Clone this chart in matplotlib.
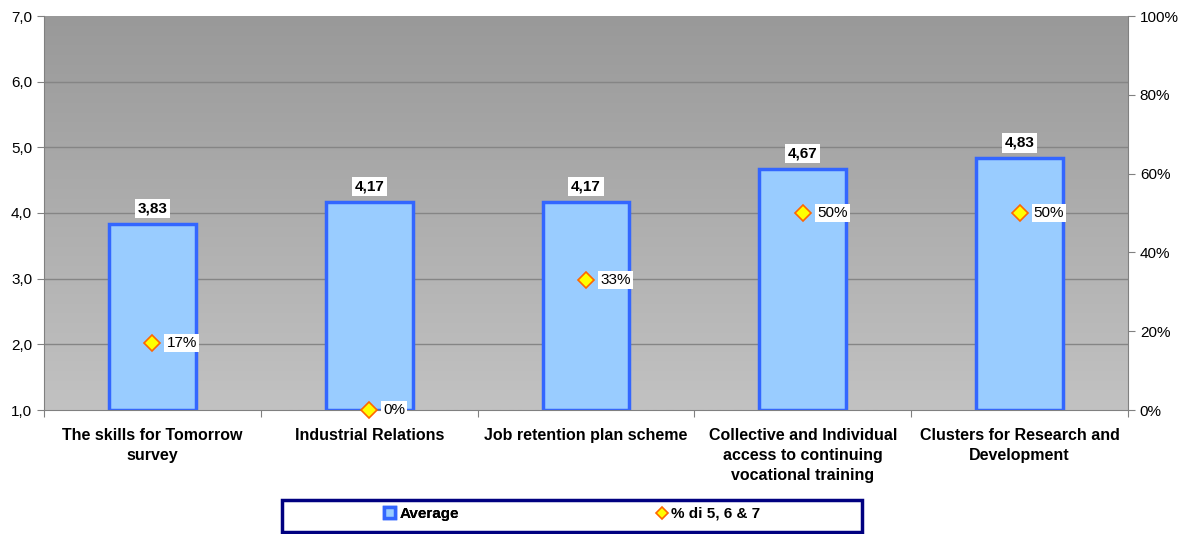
import numpy as np
import matplotlib.pyplot as plt
from matplotlib.ticker import FixedLocator, FixedFormatter
from matplotlib.patches import Rectangle

plt.rcParams['font.family'] = ['Liberation Sans', 'DejaVu Sans']

# data
categories = ['The skills for Tomorrow\nsurvey', 'Industrial Relations',
              'Job retention plan scheme',
              'Collective and Individual\naccess to continuing\nvocational training',
              'Clusters for Research and\nDevelopment']
average = [3.83, 4.17, 4.17, 4.67, 4.83]
pct_567 = [17, 0, 33, 50, 50]

fig = plt.figure(figsize=(11.84, 5.34), dpi=100)
ax = fig.add_axes([44/1184, 1 - 410/534, (1128-44)/1184, (410-16)/534])
x = np.arange(len(categories))

# gradient background
grad = np.linspace(0, 1, 256).reshape(-1, 1)
ax.imshow(grad, extent=[-0.5, len(categories) - 0.5, 1, 7], aspect='auto',
          cmap=plt.matplotlib.colors.LinearSegmentedColormap.from_list('g', ['#999999', '#c2c2c2']),
          origin='upper', zorder=0)
ax.set_xlim(-0.5, len(categories) - 0.5)
ax.set_ylim(1, 7)
for yv in range(2, 7):
    ax.axhline(yv, color='#858585', lw=1, zorder=1)

bars = ax.bar(x, np.array(average) - 1, bottom=1, width=0.4, color='#99ccff',
              edgecolor='#3366ff', lw=2.5, zorder=2, label='Average')
for xi, v in zip(x, average):
    ax.text(xi, v + 0.13, f'{v:.2f}'.replace('.', ','), ha='center', va='bottom',
            fontsize=11, fontweight='bold', zorder=5,
            bbox=dict(facecolor='white', edgecolor='none', pad=2))

ax.set_yticks(np.arange(1, 8))
ax.set_yticklabels([f'{v},0' for v in range(1, 8)], fontsize=11)
ax.xaxis.set_major_locator(FixedLocator(np.arange(-0.5, len(categories), 1.0)))
ax.xaxis.set_major_formatter(FixedFormatter([''] * (len(categories) + 1)))
ax.xaxis.set_minor_locator(FixedLocator(x))
ax.xaxis.set_minor_formatter(FixedFormatter(categories))
ax.tick_params(axis='x', which='minor', length=0, pad=13, labelsize=11.5)
for lbl in ax.get_xticklabels(minor=True):
    lbl.set_fontweight('bold')
    lbl.set_linespacing(1.4)
ax.tick_params(axis='x', which='major', length=5, color='#808080')
ax.tick_params(axis='y', length=5, color='#808080')
for s in ['top', 'right']:
    ax.spines[s].set_visible(False)
ax.spines['left'].set_color('#808080')
ax.spines['bottom'].set_color('#808080')

ax2 = ax.twinx()
ax2.set_ylim(0, 100)
ax2.set_yticks(np.arange(0, 101, 20))
ax2.set_yticklabels([f'{v}%' for v in range(0, 101, 20)], fontsize=11)
ax2.tick_params(axis='y', length=5, color='#808080')
for s in ['top', 'left', 'bottom']:
    ax2.spines[s].set_visible(False)
ax2.spines['right'].set_color('#808080')
pts, = ax2.plot(x, pct_567, ls='none', marker='D', ms=8, mfc='#ffff00',
                mec='#ff6600', mew=1.2, zorder=6, clip_on=False, label='% di 5, 6 & 7')
for xi, p in zip(x, pct_567):
    ax2.text(xi + 0.065, p, f'{p}%', ha='left', va='center', fontsize=11,
             bbox=dict(facecolor='white', edgecolor='none', pad=1.5))

# legend box
fig.patches.append(Rectangle((282/1184, 2/534), 580/1184, 32/534, transform=fig.transFigure,
                             facecolor='white', edgecolor='#000080', lw=2.5))
leg1 = fig.legend(handles=[bars], labels=['Average'], loc='center left',
                  bbox_to_anchor=(370/1184, 1 - 514/534), frameon=False,
                  prop={'weight': 'bold', 'size': 11}, handlelength=0.75, handleheight=0.7,
                  handletextpad=0.3)
fig.add_artist(leg1)
leg2 = fig.legend(handles=[pts], labels=['% di 5, 6 & 7'], loc='center left',
                  bbox_to_anchor=(642/1184, 1 - 514/534), frameon=False,
                  prop={'weight': 'bold', 'size': 11}, handlelength=0.8,
                  handletextpad=0.2, markerscale=0.75)

fig.savefig('out.png', dpi=100)
